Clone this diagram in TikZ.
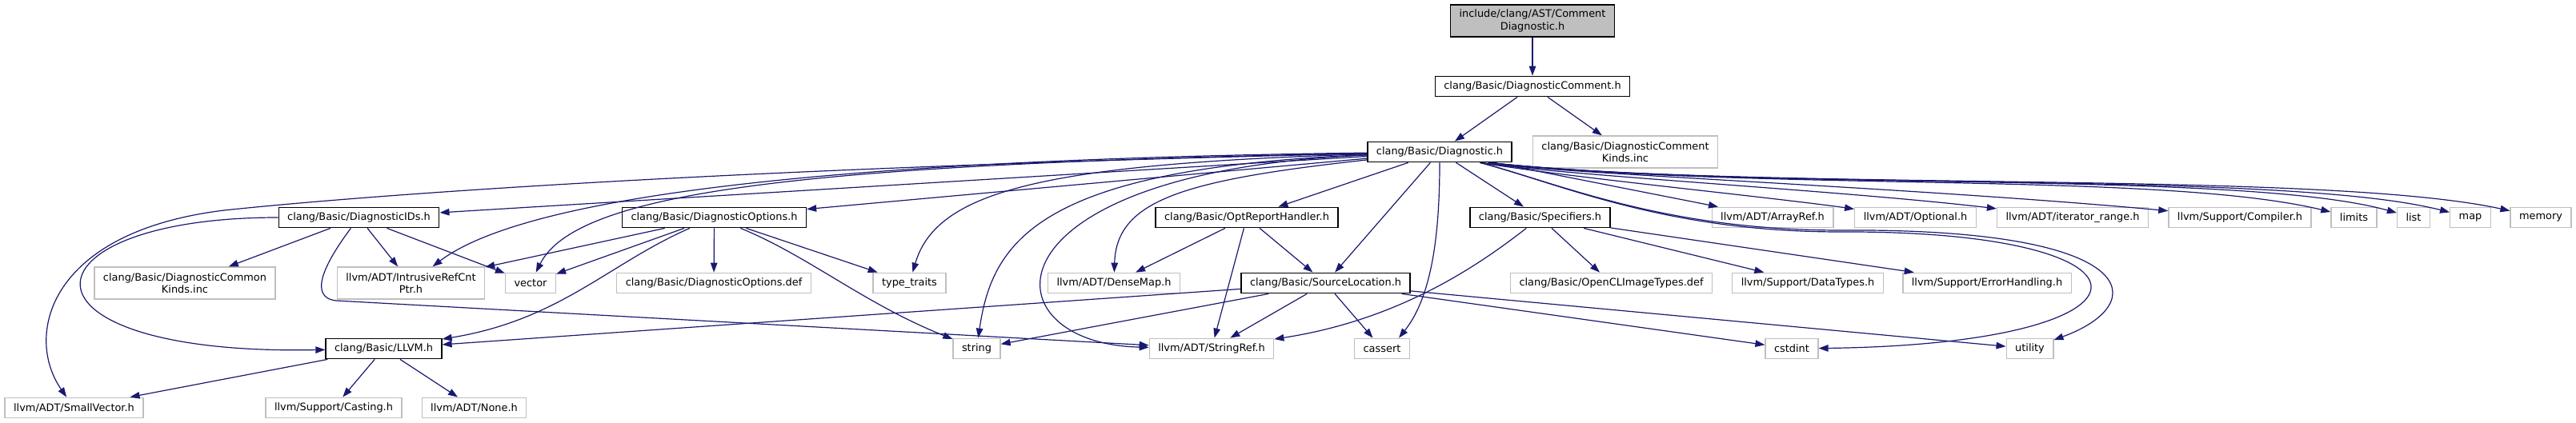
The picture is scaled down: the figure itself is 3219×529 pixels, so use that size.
\documentclass[tikz,border=0pt]{standalone}
\usepackage{fontspec}
\setmainfont{DejaVu Sans}
\usetikzlibrary{arrows.meta}
\definecolor{edgeblue}{HTML}{191970}
\definecolor{boxgray}{HTML}{BFBFBF}

\begin{document}
\begin{tikzpicture}[x=1pt, y=1pt,
    every node/.style={font=\fontsize{12.9}{15.5}\selectfont, inner xsep=11pt, inner ysep=5pt,
        minimum height=25.5pt, align=center},
    hdr/.style={draw=black, line width=1.3pt, fill=white},
    sys/.style={draw=boxgray, line width=1.3pt, fill=white},
    self/.style={draw=black, line width=1.3pt, fill=boxgray},
    tall/.style={minimum height=40pt},
    dep/.style={edgeblue, line width=1.2pt, -{Triangle[length=12pt, width=8.5pt]}}]
    \useasboundingbox (0,0) rectangle (3219,-529);

    % top part
    \node[self, tall] (top) at (1915,-26) {include/clang/AST/Comment\\Diagnostic.h};
    \node[hdr] (dcomment) at (1915,-108) {clang/Basic/DiagnosticComment.h};
    \node[hdr] (diag) at (1799,-190) {clang/Basic/Diagnostic.h};
    \node[sys, tall] (dckinds) at (2031,-190) {clang/Basic/DiagnosticComment\\Kinds.inc};

    % second row
    \node[hdr] (ids) at (448.5,-272) {clang/Basic/DiagnosticIDs.h};
    \node[hdr] (opts) at (892.5,-272) {clang/Basic/DiagnosticOptions.h};
    \node[hdr] (orh) at (1558,-272) {clang/Basic/OptReportHandler.h};
    \node[hdr] (spec) at (1924.5,-272) {clang/Basic/Specifiers.h};
    \node[sys] (arrayref) at (2215,-272) {llvm/ADT/ArrayRef.h};
    \node[sys] (optional) at (2393.5,-272) {llvm/ADT/Optional.h};
    \node[sys] (iterrange) at (2590,-272) {llvm/ADT/iterator\_range.h};
    \node[sys] (compiler) at (2799,-272) {llvm/Support/Compiler.h};
    \node[sys] (limits) at (2941.5,-272) {limits};
    \node[sys] (list) at (3016,-272) {list};
    \node[sys] (map) at (3087,-272) {map};
    \node[sys] (memory) at (3175,-272) {memory};

    % third row
    \node[sys, tall] (cokinds) at (231,-354) {clang/Basic/DiagnosticCommon\\Kinds.inc};
    \node[sys, tall] (irc) at (513.5,-354) {llvm/ADT/IntrusiveRefCnt\\Ptr.h};
    \node[sys] (vector) at (663,-354) {vector};
    \node[sys] (optsdef) at (892,-354) {clang/Basic/DiagnosticOptions.def};
    \node[sys] (typetraits) at (1136.5,-354) {type\_traits};
    \node[sys] (densemap) at (1392,-354) {llvm/ADT/DenseMap.h};
    \node[hdr] (srcloc) at (1656.5,-354) {clang/Basic/SourceLocation.h};
    \node[sys] (opencl) at (2013.5,-354) {clang/Basic/OpenCLImageTypes.def};
    \node[sys] (datatypes) at (2259,-354) {llvm/Support/DataTypes.h};
    \node[sys] (errhandling) at (2483,-354) {llvm/Support/ErrorHandling.h};

    % fourth row
    \node[hdr] (llvm) at (479.5,-436) {clang/Basic/LLVM.h};
    \node[sys] (string) at (1220.5,-436) {string};
    \node[sys] (stringref) at (1514,-436) {llvm/ADT/StringRef.h};
    \node[sys] (cassert) at (1727,-436) {cassert};
    \node[sys] (cstdint) at (2239,-436) {cstdint};
    \node[sys] (utility) at (2536.5,-436) {utility};

    % bottom row
    \node[sys] (smallvec) at (92.5,-510) {llvm/ADT/SmallVector.h};
    \node[sys] (casting) at (417,-510) {llvm/Support/Casting.h};
    \node[sys] (none) at (592.5,-510) {llvm/ADT/None.h};

    % straight includes
    \foreach \src/\dst in {top/dcomment, dcomment/diag, dcomment/dckinds,
            diag/ids, diag/opts, diag/orh, diag/srcloc, diag/spec, diag/arrayref,
            ids/cokinds, ids/irc, ids/vector,
            opts/irc, opts/vector, opts/optsdef, opts/typetraits,
            orh/densemap, orh/stringref, orh/srcloc,
            spec/opencl, spec/datatypes, spec/errhandling,
            srcloc/llvm, srcloc/string, srcloc/stringref, srcloc/cassert,
            srcloc/cstdint, srcloc/utility,
            llvm/smallvec, llvm/casting, llvm/none}
        \draw[dep] (\src) -- (\dst);

    % curved includes of Diagnostic.h
    \draw[dep] (diag) .. controls (1799,-290) and (1790,-370) .. ([xshift=-14pt]cassert.north east);
    \draw[dep] (diag) .. controls (1480,-225) and (1395,-250) .. (densemap);
    \draw[dep] (diag) .. controls (1220,-215) and (1230,-430) .. (stringref);
    \draw[dep] (diag) .. controls (1300,-210) and (1240,-300) .. (string);
    \draw[dep] (diag) .. controls (1300,-205) and (1170,-240) .. (typetraits);
    \draw[dep] (diag) .. controls (1000,-205) and (720,-240) .. (vector);
    \draw[dep] (diag) .. controls (1000,-200) and (650,-250) .. (irc);
    \draw[dep] (diag) .. controls (900,-210) and (450,-245) .. (280,-263)
        .. controls (60,-290) and (30,-420) .. (smallvec);
    \draw[dep] ([xshift=-40pt]diag.south east) .. controls (1960,-222) and (2200,-245) .. (optional);
    \draw[dep] ([xshift=-40pt]diag.south east) .. controls (1960,-220) and (2300,-238) .. (iterrange);
    \draw[dep] ([xshift=-40pt]diag.south east) .. controls (1960,-218) and (2400,-235) .. (compiler);
    \draw[dep] ([xshift=-30pt]diag.south east) .. controls (2200,-240) and (2700,-214) .. (limits);
    \draw[dep] ([xshift=-30pt]diag.south east) .. controls (2200,-240) and (2800,-212) .. (list);
    \draw[dep] ([xshift=-30pt]diag.south east) .. controls (2200,-240) and (2850,-212) .. (map);
    \draw[dep] ([xshift=-30pt]diag.south east) .. controls (2200,-240) and (2900,-212) .. (memory);
    \draw[dep] (diag) .. controls (1950,-230) and (2080,-290) .. (2300,-290)
        .. controls (2720,-288) and (2720,-430) .. (cstdint);
    \draw[dep] (diag) .. controls (1950,-230) and (2080,-288) .. (2300,-288)
        .. controls (2680,-285) and (2690,-380) .. (utility);

    % other curved includes
    \draw[dep] (ids) .. controls (20,-272) and (0,-445) .. (llvm);
    \draw[dep] (ids) .. controls (405,-330) and (385,-372) .. (420,-376) -- (stringref);
    \draw[dep] (opts) .. controls (760,-330) and (700,-400) .. (llvm);
    \draw[dep] (opts) .. controls (1010,-320) and (1080,-380) .. (string);
    \draw[dep] (spec) .. controls (1850,-330) and (1750,-400) .. (stringref);
\end{tikzpicture}
\end{document}
